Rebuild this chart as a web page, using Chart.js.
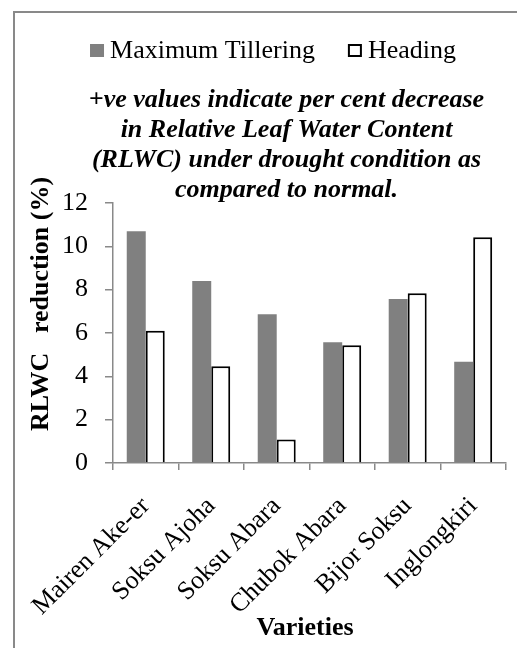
<!DOCTYPE html>
<html>
<head>
<meta charset="utf-8">
<script src="https://cdn.jsdelivr.net/npm/chart.js@4/dist/chart.umd.min.js"></script>
<style>
  html, body { margin: 0; padding: 0; background: #fff; }
  #wrap { position: relative; width: 517px; height: 648px; }
</style>
</head>
<body>
<div id="wrap"><canvas id="chart" width="517" height="648"></canvas></div>
<script>
const varieties = ["Mairen Ake-er", "Soksu Ajoha", "Soksu Abara", "Chubok Abara", "Bijor Soksu", "Inglongkiri"];
const maxTillering = [10.7, 8.4, 6.86, 5.57, 7.57, 4.67];
const heading = [6.1, 4.47, 1.08, 5.44, 7.83, 10.42];
const yTicks = [0, 2, 4, 6, 8, 10, 12];
const noteLines = [
  "+ve values indicate per cent decrease",
  "in Relative Leaf Water Content",
  "(RLWC) under drought condition as",
  "compared to normal.",
];

const SERIF = '"Liberation Serif", "Times New Roman", serif';
const AXIS_GRAY = "#898989";

// legend, note text, axis titles and the outer frame
const chartText = {
  id: "chartText",
  beforeDraw(chart) {
    const ctx = chart.ctx;
    ctx.save();
    ctx.strokeStyle = AXIS_GRAY;
    ctx.lineWidth = 2;
    ctx.beginPath();
    ctx.moveTo(14, 700);
    ctx.lineTo(14, 12);
    ctx.lineTo(600, 12);
    ctx.stroke();
    ctx.restore();
  },
  afterDraw(chart) {
    const ctx = chart.ctx;
    ctx.save();
    ctx.fillStyle = "#000";

    // legend
    ctx.font = `26px ${SERIF}`;
    ctx.textBaseline = "alphabetic";
    ctx.textAlign = "left";
    const sets = chart.data.datasets;
    const box = 14, gap = 6, spacing = 33;
    const widths = sets.map((d) => ctx.measureText(d.label).width);
    const total = widths.reduce((a, w) => a + box + gap + w, 0) + spacing * (sets.length - 1);
    let x = 273 - total / 2;
    sets.forEach((d, i) => {
      ctx.fillStyle = d.backgroundColor;
      ctx.fillRect(x, 44, box, box - 1);
      if (d.borderWidth) {
        ctx.strokeStyle = d.borderColor;
        ctx.lineWidth = 2;
        ctx.strokeRect(x + 1, 45, box - 2, box - 3);
      }
      ctx.fillStyle = "#000";
      ctx.fillText(d.label, x + box + gap, 58);
      x += box + gap + widths[i] + spacing;
    });

    // note
    ctx.font = `italic bold 26px ${SERIF}`;
    ctx.textAlign = "center";
    noteLines.forEach((line, i) => ctx.fillText(line, 286.5, 107 + i * 30));

    // axis titles
    ctx.font = `bold 26px ${SERIF}`;
    ctx.fillText("Varieties", 305, 635);
    ctx.translate(41, 304);
    ctx.rotate(-Math.PI / 2);
    ctx.textBaseline = "middle";
    ctx.fillText("RLWC   reduction (%)", 0, 0);
    ctx.restore();
  },
};

new Chart(document.getElementById("chart"), {
  type: "bar",
  data: {
    labels: varieties,
    datasets: [
      {
        label: "Maximum Tillering",
        data: maxTillering,
        backgroundColor: "#808080",
        borderWidth: 0,
      },
      {
        label: "Heading",
        data: heading,
        backgroundColor: "#ffffff",
        borderColor: "#000000",
        borderWidth: 2,
      },
    ],
  },
  options: {
    responsive: false,
    animation: false,
    categoryPercentage: 0.58,
    barPercentage: 1,
    layout: { padding: { left: 0, top: 203, right: 9, bottom: 0 } },
    plugins: {
      legend: { display: false },
      title: { display: false },
      tooltip: { enabled: false },
    },
    scales: {
      x: {
        afterFit: (scale) => { scale.height = 185; },
        grid: { drawOnChartArea: false, tickLength: 7, color: AXIS_GRAY, lineWidth: 1.5, offset: true },
        border: { color: AXIS_GRAY, width: 1.5 },
        ticks: {
          color: "#000",
          font: { family: SERIF, size: 26 },
          minRotation: 45,
          maxRotation: 45,
          autoSkip: false,
          padding: 21,
        },
      },
      y: {
        min: yTicks[0],
        max: yTicks[yTicks.length - 1],
        afterFit: (scale) => { scale.width = 113; },
        afterBuildTicks: (scale) => { scale.ticks = yTicks.map((v) => ({ value: v })); },
        grid: { drawOnChartArea: false, tickLength: 8, color: AXIS_GRAY, lineWidth: 1.5 },
        border: { color: AXIS_GRAY, width: 1.5 },
        ticks: {
          color: "#000",
          font: { family: SERIF, size: 26 },
          padding: 17,
        },
      },
    },
  },
  plugins: [chartText],
});
</script>
</body>
</html>
